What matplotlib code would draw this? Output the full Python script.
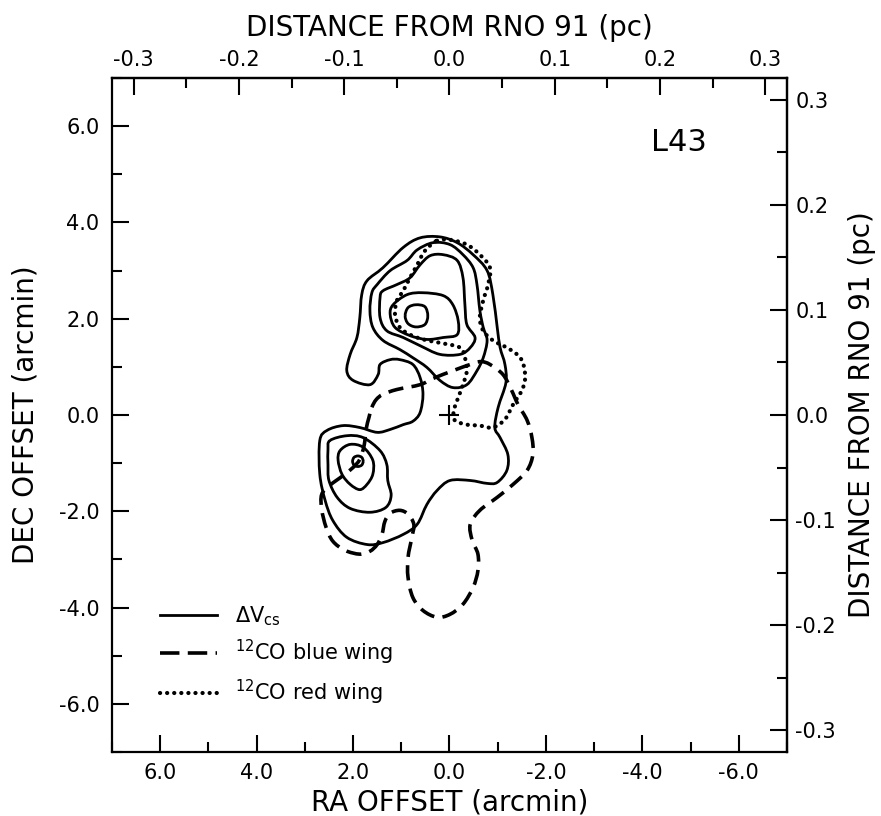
import matplotlib
matplotlib.use('Agg')
import matplotlib.pyplot as plt
from matplotlib.lines import Line2D
from matplotlib.path import Path
from matplotlib.patches import PathPatch
from matplotlib.ticker import MultipleLocator

plt.rcParams['font.family'] = 'DejaVu Sans'
plt.rcParams['axes.unicode_minus'] = False
plt.rcParams['lines.scale_dashes'] = False

# pc per arcmin (distance to RNO 91)
PC_PER_ARCMIN = 0.0458

ra_ticks = [6.0, 4.0, 2.0, 0.0, -2.0, -4.0, -6.0]
ra_labels = ['6.0', '4.0', '2.0', '0.0', '-2.0', '-4.0', '-6.0']
dec_ticks = [6.0, 4.0, 2.0, 0.0, -2.0, -4.0, -6.0]
dec_labels = ['6.0', '4.0', '2.0', '0.0', '-2.0', '-4.0', '-6.0']
pc_ticks = [-0.3, -0.2, -0.1, 0.0, 0.1, 0.2, 0.3]
pc_labels = ['-0.3', '-0.2', '-0.1', '0.0', '0.1', '0.2', '0.3']

# contour vertices, (RA offset, DEC offset) in arcmin
# delta V(CS) contours
cs_outer = [(0.61, 3.68), (0.20, 3.70), (-0.16, 3.58), (-0.49, 3.33), (-0.78, 3.00),
            (-0.90, 2.50), (-0.99, 1.82), (-1.05, 1.40), (-1.15, 1.05), (-1.17, 0.67),
            (-1.01, 0.16), (-0.94, -0.26), (-1.05, -0.47), (-1.21, -0.82), (-1.19, -1.15),
            (-0.99, -1.40), (-0.78, -1.42), (-0.43, -1.36), (-0.01, -1.36), (0.26, -1.57),
            (0.47, -1.86), (0.67, -2.27), (0.96, -2.48), (1.38, -2.65), (1.71, -2.69),
            (2.13, -2.54), (2.42, -2.19), (2.58, -1.77), (2.69, -1.23), (2.69, -0.53),
            (2.54, -0.32), (2.21, -0.22), (1.86, -0.26), (1.50, -0.36), (1.23, -0.30),
            (0.96, -0.20), (0.76, -0.13), (0.61, 0.05), (0.55, 0.43), (0.61, 0.78),
            (0.76, 1.05), (1.03, 1.15), (1.23, 1.15), (1.44, 1.05), (1.48, 0.84),
            (1.65, 0.63), (2.00, 0.72), (2.13, 0.92), (2.06, 1.26), (1.92, 1.61),
            (1.86, 2.02), (1.82, 2.50), (1.71, 2.79), (1.38, 3.06), (0.96, 3.48)]
cs_north_2 = [(1.65, 2.17), (1.61, 2.54), (1.50, 2.71), (1.23, 3.00), (0.88, 3.21),
              (0.67, 3.43), (0.34, 3.58), (-0.01, 3.54), (-0.28, 3.33), (-0.49, 3.06),
              (-0.57, 2.71), (-0.63, 2.17), (-0.70, 1.82), (-0.78, 1.55), (-0.70, 1.19),
              (-0.57, 0.92), (-0.36, 0.63), (-0.07, 0.57), (0.20, 0.72), (0.47, 0.99),
              (0.76, 1.19), (1.03, 1.36), (1.38, 1.55), (1.59, 1.82)]
cs_north_3 = [(1.44, 2.44), (1.38, 2.58), (1.09, 2.71), (0.82, 2.85), (0.61, 3.12),
              (0.40, 3.31), (0.13, 3.33), (-0.16, 3.21), (-0.28, 2.85), (-0.32, 2.29),
              (-0.36, 1.88), (-0.53, 1.61), (-0.43, 1.40), (-0.22, 1.26), (0.20, 1.26),
              (0.61, 1.44), (0.96, 1.61), (1.30, 1.75), (1.44, 2.02)]
cs_north_4 = [(1.17, 2.29), (0.88, 2.50), (0.55, 2.54), (0.13, 2.48), (-0.07, 2.29),
              (-0.18, 1.96), (-0.16, 1.67), (0.13, 1.61), (0.47, 1.57), (0.82, 1.65),
              (1.13, 1.82), (1.23, 2.09)]
cs_north_5 = [(0.92, 2.06), (0.86, 2.23), (0.70, 2.29), (0.51, 2.25), (0.45, 2.06),
              (0.51, 1.88), (0.70, 1.83), (0.86, 1.90)]
cs_south_2 = [(2.48, -0.53), (2.13, -0.43), (1.79, -0.47), (1.44, -0.74), (1.30, -1.03),
              (1.28, -1.36), (1.21, -1.67), (1.32, -1.92), (1.65, -2.02), (2.06, -1.94),
              (2.33, -1.71), (2.50, -1.36), (2.52, -1.03), (2.52, -0.72)]
cs_south_3 = [(2.27, -0.74), (2.06, -0.61), (1.79, -0.67), (1.59, -0.94), (1.59, -1.23),
              (1.71, -1.44), (1.86, -1.55), (2.06, -1.44), (2.23, -1.23), (2.31, -0.94)]
cs_south_4 = [(1.79, -0.96), (1.82, -0.88), (1.90, -0.85), (1.98, -0.88), (2.01, -0.96),
              (1.98, -1.04), (1.90, -1.07), (1.82, -1.04)]

# 12CO blue wing
co_blue = [(1.61, 0.16), (1.52, 0.32), (1.38, 0.43), (1.09, 0.53), (0.61, 0.63),
           (0.34, 0.76), (-0.07, 0.92), (-0.43, 1.05), (-0.65, 1.11), (-0.84, 1.05),
           (-1.11, 0.84), (-1.28, 0.53), (-1.42, 0.22), (-1.61, -0.11), (-1.71, -0.47),
           (-1.73, -0.82), (-1.61, -1.15), (-1.32, -1.44), (-0.99, -1.71), (-0.63, -1.98),
           (-0.43, -2.27), (-0.47, -2.60), (-0.59, -2.89), (-0.59, -3.23), (-0.49, -3.58),
           (-0.28, -3.93), (-0.01, -4.14), (0.26, -4.20), (0.55, -4.06), (0.76, -3.79),
           (0.86, -3.37), (0.86, -2.96), (0.78, -2.54), (0.74, -2.27), (0.86, -2.06),
           (1.03, -1.98), (1.23, -2.04), (1.34, -2.21), (1.40, -2.48), (1.50, -2.69),
           (1.65, -2.83), (1.86, -2.89), (2.17, -2.81), (2.42, -2.62), (2.56, -2.33),
           (2.65, -1.96), (2.65, -1.65), (2.48, -1.46), (2.21, -1.26), (2.00, -1.09),
           (1.86, -0.92), (1.77, -0.63), (1.73, -0.30), (1.67, -0.05)]

# 12CO red wing
co_red = [(0.26, 3.62), (-0.01, 3.64), (-0.36, 3.54), (-0.63, 3.33), (-0.84, 3.06),
          (-0.80, 2.71), (-0.70, 2.38), (-0.63, 2.02), (-0.70, 1.75), (-0.90, 1.55),
          (-1.19, 1.40), (-1.40, 1.26), (-1.52, 1.09), (-1.57, 0.78), (-1.50, 0.51),
          (-1.32, 0.22), (-1.15, -0.09), (-0.90, -0.26), (-0.63, -0.22), (-0.36, -0.20),
          (-0.11, -0.11), (-0.09, 0.09), (-0.18, 0.36), (-0.28, 0.63), (-0.36, 0.92),
          (-0.32, 1.19), (-0.22, 1.40), (0.20, 1.50), (0.55, 1.57), (0.82, 1.67),
          (1.03, 1.82), (1.13, 2.09), (1.09, 2.38), (0.96, 2.58), (0.82, 2.85),
          (0.67, 3.12), (0.51, 3.41)]


def contour_path(points):
    # closed curve through the traced vertices (cubic Bezier segments)
    n = len(points)
    verts = [points[0]]
    codes = [Path.MOVETO]
    for i in range(n):
        p0, p1 = points[i - 1], points[i]
        p2, p3 = points[(i + 1) % n], points[(i + 2) % n]
        c1 = (p1[0] + (p2[0] - p0[0]) / 6, p1[1] + (p2[1] - p0[1]) / 6)
        c2 = (p2[0] - (p3[0] - p1[0]) / 6, p2[1] - (p3[1] - p1[1]) / 6)
        verts += [c1, c2, p2]
        codes += [Path.CURVE4] * 3
    return Path(verts, codes)


solid_lw, dash_lw, dot_lw = 2.0, 2.6, 3.0
dash_pat = (0, (11, 6))
dot_pat = (0, (0.1, 5))

fig = plt.figure(figsize=(8.81, 8.16), dpi=100)
ax = fig.add_axes([0.1271, 0.0784, 0.7662, 0.826])

for c in [cs_outer, cs_north_2, cs_north_3, cs_north_4, cs_north_5,
          cs_south_2, cs_south_3, cs_south_4]:
    ax.add_patch(PathPatch(contour_path(c), fill=False, edgecolor='black',
                           lw=solid_lw, joinstyle='round'))
ax.add_patch(PathPatch(contour_path(co_blue), fill=False, edgecolor='black',
                       lw=dash_lw, linestyle=dash_pat, capstyle='butt'))
ax.add_patch(PathPatch(contour_path(co_red), fill=False, edgecolor='black',
                       lw=dot_lw, linestyle=dot_pat, capstyle='round'))

# position of RNO 91
ax.plot([0.0], [0.0], marker='+', color='black', ms=15, mew=1.5)

ax.set_xlim(7.0, -7.0)
ax.set_ylim(-7.0, 7.0)

for s in ax.spines.values():
    s.set_linewidth(1.6)

ax.set_xticks(ra_ticks)
ax.set_xticklabels(ra_labels)
ax.set_yticks(dec_ticks)
ax.set_yticklabels(dec_labels)
ax.xaxis.set_minor_locator(MultipleLocator(1.0))
ax.yaxis.set_minor_locator(MultipleLocator(1.0))
ax.tick_params(which='both', direction='in', top=False, right=False, width=1.5, labelsize=15)
ax.tick_params(which='major', length=12)
ax.tick_params(which='minor', length=7)
ax.tick_params(axis='x', pad=8)
ax.tick_params(axis='y', pad=9)

ax.set_xlabel('RA OFFSET (arcmin)', fontsize=20, labelpad=4)
ax.set_ylabel('DEC OFFSET (arcmin)', fontsize=20, labelpad=14)

# parsec scales
top = ax.secondary_xaxis('top', functions=(lambda r: -r * PC_PER_ARCMIN,
                                           lambda p: -p / PC_PER_ARCMIN))
top.set_xticks(pc_ticks)
top.set_xticklabels(pc_labels)
top.xaxis.set_minor_locator(MultipleLocator(0.05))
top.tick_params(which='both', direction='in', width=1.5, labelsize=15, pad=6)
top.tick_params(which='major', length=12)
top.tick_params(which='minor', length=7)
top.set_xlabel('DISTANCE FROM RNO 91 (pc)', fontsize=20, labelpad=10)

right = ax.secondary_yaxis('right', functions=(lambda d: d * PC_PER_ARCMIN,
                                               lambda p: p / PC_PER_ARCMIN))
right.set_yticks(pc_ticks)
right.set_yticklabels(pc_labels)
right.yaxis.set_minor_locator(MultipleLocator(0.05))
right.tick_params(which='both', direction='in', width=1.5, labelsize=15, pad=6)
right.tick_params(which='major', length=12)
right.tick_params(which='minor', length=7)
right.set_ylabel('DISTANCE FROM RNO 91 (pc)', fontsize=20, labelpad=9)
for s in list(top.spines.values()) + list(right.spines.values()):
    s.set_linewidth(1.6)

ax.text(0.84, 0.905, 'L43', transform=ax.transAxes, fontsize=22,
        ha='center', va='center')

handles = [Line2D([], [], color='black', lw=solid_lw),
           Line2D([], [], color='black', lw=dash_lw, linestyle=(0, (14, 6))),
           Line2D([], [], color='black', lw=dot_lw, linestyle=dot_pat,
                  dash_capstyle='round')]
labels = [r'$\Delta$V$_{\mathrm{cs}}$', r'$^{12}$CO blue wing', r'$^{12}$CO red wing']
ax.legend(handles, labels, loc='lower left', bbox_to_anchor=(0.05, 0.045),
          frameon=False, fontsize=15, handlelength=2.7, handletextpad=0.9,
          labelspacing=0.5, borderpad=0.2)

fig.savefig('out.png', dpi=100)
